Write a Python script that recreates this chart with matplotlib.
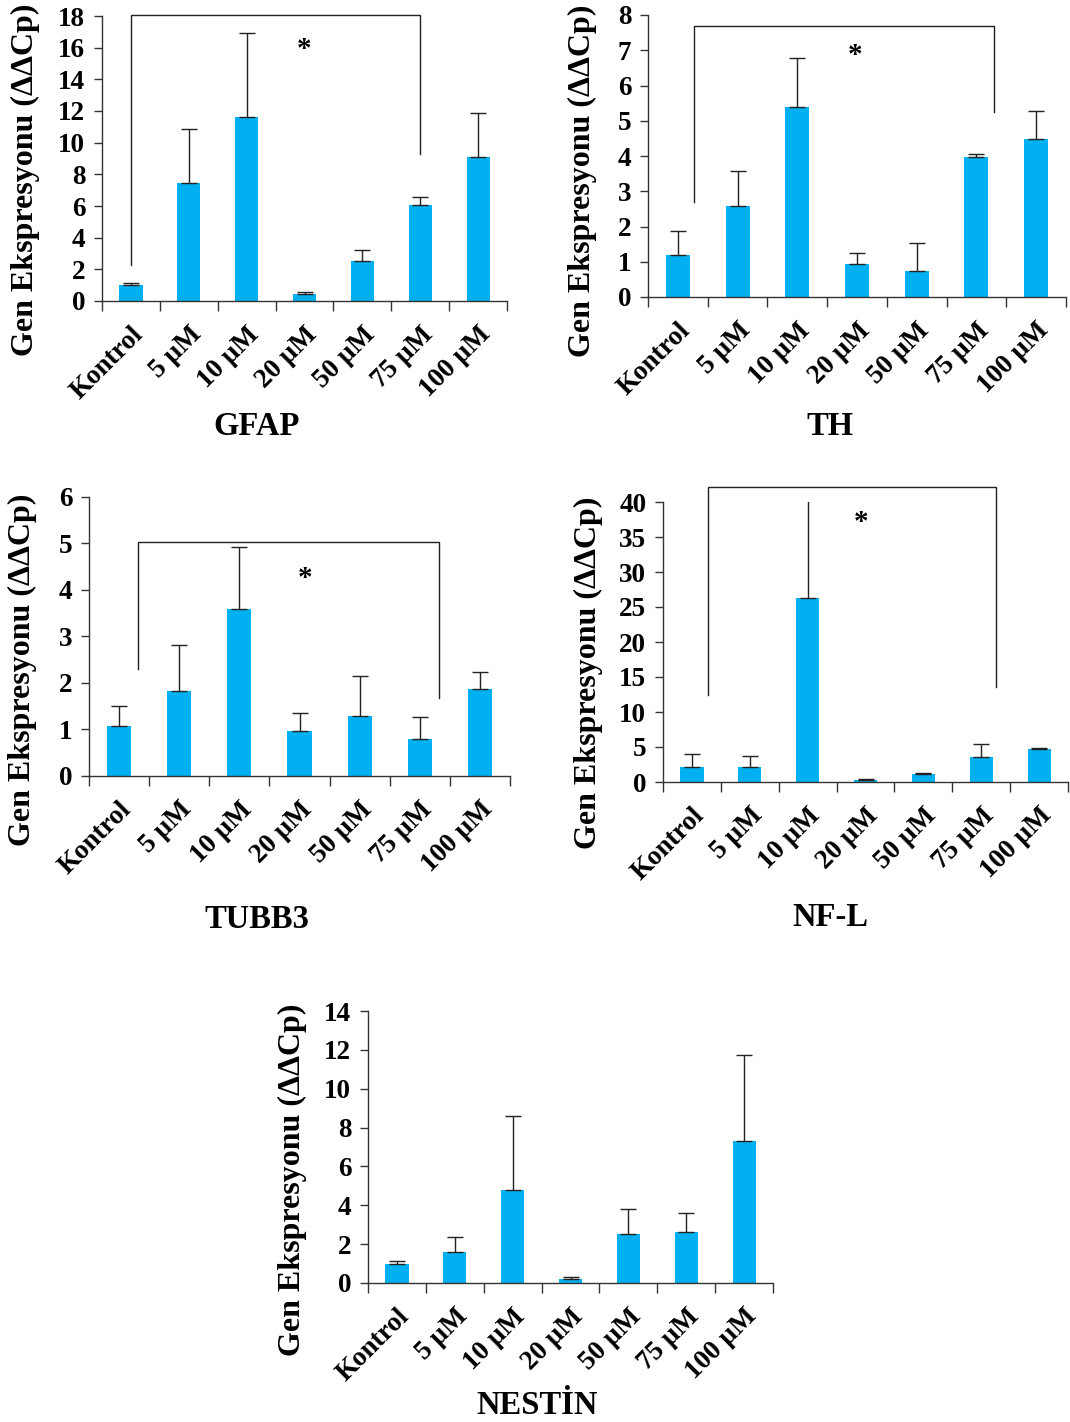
import numpy as np
import matplotlib
matplotlib.use('Agg')
import matplotlib.pyplot as plt

plt.rcParams['font.family'] = ['Liberation Serif', 'DejaVu Serif']
plt.rcParams['font.weight'] = 'bold'

categories = ['Kontrol', '5 µM', '10 µM', '20 µM', '50 µM', '75 µM', '100 µM']

gfap_mean = [1.0, 7.45, 11.65, 0.45, 2.55, 6.05, 9.1]
gfap_err = [0.15, 3.4, 5.25, 0.1, 0.65, 0.5, 2.8]

th_mean = [1.2, 2.58, 5.4, 0.95, 0.75, 3.98, 4.48]
th_err = [0.68, 0.99, 1.38, 0.3, 0.78, 0.08, 0.79]

tubb3_mean = [1.08, 1.82, 3.6, 0.97, 1.28, 0.8, 1.88]
tubb3_err = [0.42, 1.0, 1.33, 0.38, 0.87, 0.47, 0.35]

nfl_mean = [2.1, 2.2, 26.3, 0.3, 1.15, 3.6, 4.75]
nfl_err = [1.9, 1.5, 15.0, 0.2, 0.2, 1.8, 0.05]

nestin_mean = [1.0, 1.6, 4.8, 0.2, 2.52, 2.62, 7.3]
nestin_err = [0.15, 0.78, 3.82, 0.1, 1.3, 0.98, 4.45]

# bracket: left x, right x, top y, left leg bottom, right leg bottom ; star x, y
gfap_bracket = [0, 5, 18.05, 2.3, 9.3, 3.0, 15.9]
th_bracket = [0.27, 5.3, 7.69, 2.7, 5.25, 2.96, 6.86]
tubb3_bracket = [0.32, 5.32, 5.03, 2.31, 1.67, 3.1, 4.25]
nfl_bracket = [0.27, 5.26, 42.1, 12.5, 13.6, 2.92, 37.1]

W, H = 1070, 1422
fig = plt.figure(figsize=(W / 100, H / 100), dpi=100)

def px_axes(l, r, t, b):
    return fig.add_axes([l / W, 1 - b / H, (r - l) / W, (b - t) / H])

def panel(ax, mean, err, ymax, ystep, label_xy, bracket=None):
    x = np.arange(len(categories))
    ax.bar(x, mean, width=0.4, color='#00B0F0', zorder=2)
    ax.errorbar(x, mean, yerr=[np.zeros(len(err)), err], fmt='none',
                ecolor='#222222', elinewidth=1.0, capsize=5.5, capthick=1.0, zorder=3)
    ax.set_xlim(-0.5, len(categories) - 0.5)
    ax.set_ylim(0, ymax)
    ax.set_yticks(np.arange(0, ymax + 0.01, ystep))
    ax.set_yticklabels([str(int(v)) for v in np.arange(0, ymax + 0.01, ystep)],
                       fontsize=19.5, fontweight='bold')
    ax.set_xticks(np.arange(-0.5, len(categories)), minor=False)
    ax.set_xticklabels([])
    ax.set_xticks(x, minor=True)
    ax.set_xticklabels(categories, minor=True, rotation=45, ha='right',
                       rotation_mode='anchor', fontsize=19.5, fontweight='bold')
    ax.tick_params(axis='x', which='minor', length=0, pad=15)
    ax.tick_params(axis='x', which='major', length=7, width=1, direction='out', color='#333333')
    ax.tick_params(axis='y', length=6, width=1, direction='out', color='#333333', pad=6)
    for s in ['top', 'right']:
        ax.spines[s].set_visible(False)
    for s in ['left', 'bottom']:
        ax.spines[s].set_color('#333333')
        ax.spines[s].set_linewidth(1)
    ax.set_ylabel('Gen Ekspresyonu (ΔΔCp)', fontsize=23, fontweight='bold')
    ax.yaxis.set_label_coords(label_xy[0] / W, 1 - label_xy[1] / H, transform=fig.transFigure)
    ax.yaxis.label.set_va('center')
    if bracket:
        xl, xr, yt, yl, yr, sx, sy = bracket
        ax.plot([xl, xl, xr, xr], [yl, yt, yt, yr], color='#222222', lw=1, clip_on=False)
        ax.text(sx, sy, '*', ha='center', va='center', fontsize=21, fontweight='bold')

ax1 = px_axes(102, 507, 16, 301)
panel(ax1, gfap_mean, gfap_err, 18, 2, (25, 180), gfap_bracket)
ax2 = px_axes(648, 1066, 15, 297)
panel(ax2, th_mean, th_err, 8, 1, (582, 181), th_bracket)
ax3 = px_axes(89, 510, 497, 776)
panel(ax3, tubb3_mean, tubb3_err, 6, 1, (22, 670), tubb3_bracket)
ax4 = px_axes(663, 1068, 502, 782)
panel(ax4, nfl_mean, nfl_err, 40, 5, (588, 673), nfl_bracket)
ax5 = px_axes(368, 773, 1011, 1283)
panel(ax5, nestin_mean, nestin_err, 14, 2, (292, 1180))

titles = ['GFAP', 'TH', 'TUBB3', 'NF-L', 'NESTİN']
title_pos = [(257, 427), (830, 427), (257, 920), (830, 917), (537, 1405)]
for t, (tx, ty) in zip(titles, title_pos):
    fig.text(tx / W, 1 - ty / H, t, ha='center', va='center', fontsize=23.5, fontweight='bold')

fig.savefig('out.png', dpi=100)
